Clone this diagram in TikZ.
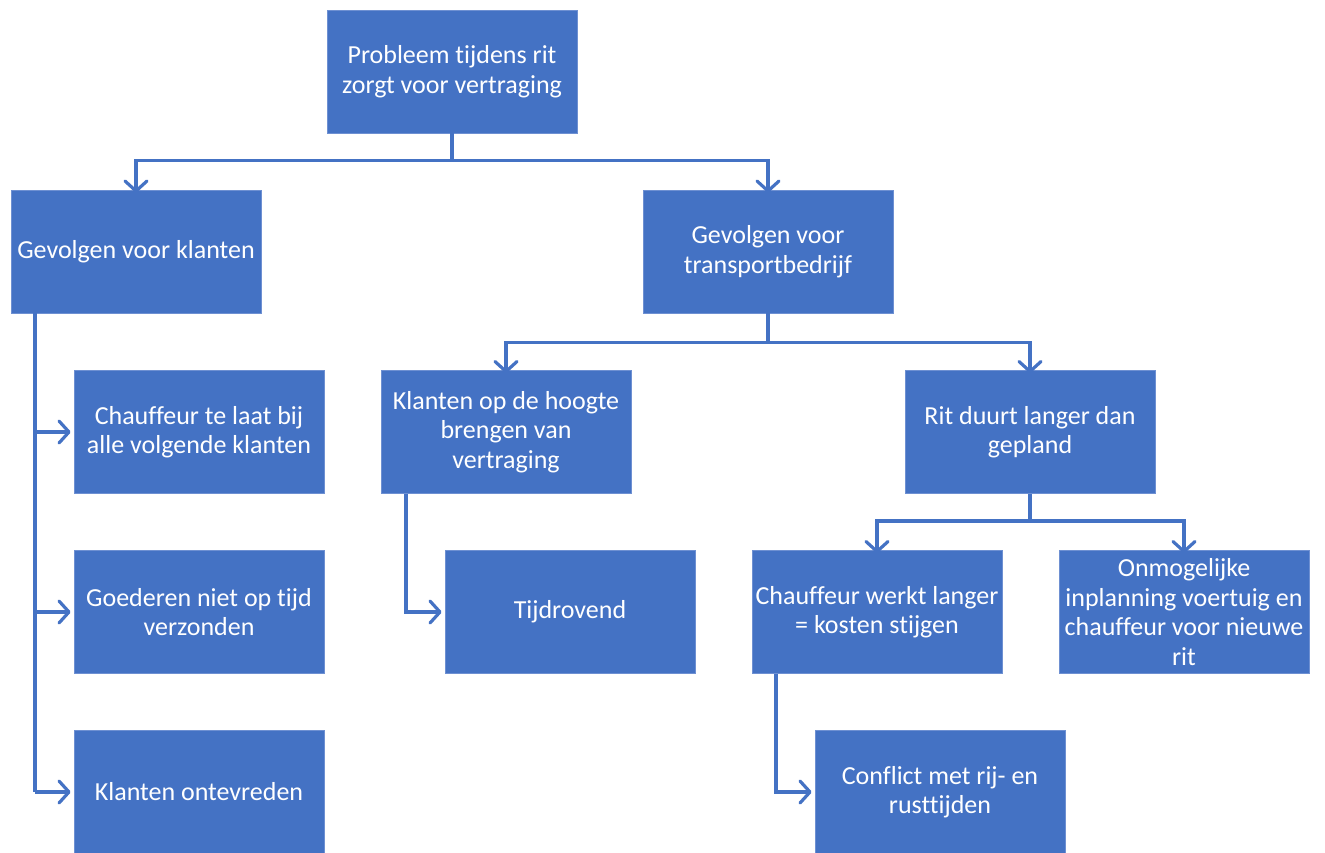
\documentclass[tikz,border=0pt]{standalone}
\usepackage{fontspec}
\setmainfont{Carlito}[RawFeature={-liga}]
\usetikzlibrary{arrows.meta}
\definecolor{boxblue}{HTML}{4472C4}
\definecolor{boxedge}{HTML}{6E90D2}
\begin{document}
\begin{tikzpicture}[x=1pt,y=-1pt,
  blk/.style={draw=boxedge, line width=0.8pt, fill=boxblue, minimum width=250pt, minimum height=123pt,
    align=center, text=white, inner sep=0pt,
    font=\fontsize{26}{29.5}\selectfont},
  link/.style={draw=boxblue, line width=3.2pt, line cap=butt, line join=miter},
  arr/.style={link, -{Straight Barb[length=10pt,width=22pt,line width=3.2pt,round]}}
]
\useasboundingbox (0,0) rectangle (1325,852);

% boxes (centres in pixel units, y downwards)
\node[blk] (top)   at (452,71.5)   {Probleem tijdens rit\\zorgt voor vertraging};
\node[blk] (klant) at (136,251.5)  {Gevolgen voor klanten};
\node[blk] (trans) at (768,251.5)  {Gevolgen voor\\transportbedrijf};
\node[blk] (laat)  at (199,432)    {Chauffeur te laat bij\\alle volgende klanten};
\node[blk] (goed)  at (199,612)    {Goederen niet op tijd\\verzonden};
\node[blk] (ontev) at (199,792)    {Klanten ontevreden};
\node[blk] (hoog)  at (506,432)    {Klanten op de hoogte\\brengen van\\vertraging};
\node[blk] (tijd)  at (570,612)    {Tijdrovend};
\node[blk] (rit)   at (1030,432)   {Rit duurt langer dan\\gepland};
\node[blk] (werkt) at (877,612)    {Chauffeur werkt langer\\= kosten stijgen};
\node[blk] (onmog) at (1184,612)   {Onmogelijke\\inplanning voertuig en\\chauffeur voor nieuwe\\rit};
\node[blk] (confl) at (940,792)    {Conflict met rij- en\\rusttijden};

% top split
\draw[link] (top.south) -- ++(0,27) coordinate (t1);
\draw[arr] (t1) -| ([yshift=-3pt]klant.north);
\draw[arr] (t1) -| ([yshift=-3pt]trans.north);

% left column branches
\coordinate (kx) at ([xshift=-101pt]klant.south);
\draw[link] (kx) -- (kx |- ontev.west);
\draw[arr] (kx |- laat.west) -- ([xshift=-3pt]laat.west);
\draw[arr] (kx |- goed.west) -- ([xshift=-3pt]goed.west);
\draw[arr] (kx |- ontev.west) -- ([xshift=-3pt]ontev.west);

% transport split
\draw[link] (trans.south) -- ++(0,29) coordinate (t2);
\draw[arr] (t2) -| ([yshift=-3pt]hoog.north);
\draw[arr] (t2) -| ([yshift=-3pt]rit.north);

% informing customers
\coordinate (hx) at ([xshift=-100pt]hoog.south);
\draw[arr] (hx) |- ([xshift=-3pt]tijd.west);

% longer trip split
\draw[link] (rit.south) -- ++(0,27) coordinate (t3);
\draw[arr] (t3) -| ([yshift=-3pt]werkt.north);
\draw[arr] (t3) -| ([yshift=-3pt]onmog.north);

% working longer
\coordinate (wx) at ([xshift=-101pt]werkt.south);
\draw[arr] (wx) |- ([xshift=-3pt]confl.west);
\end{tikzpicture}
\end{document}
